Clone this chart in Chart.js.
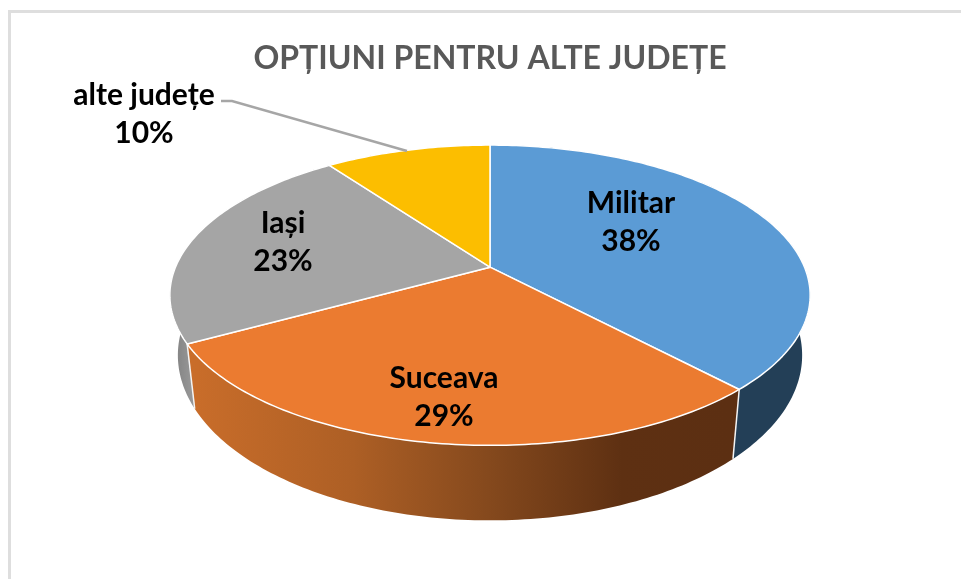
<!DOCTYPE html>
<html lang="ro"><head><meta charset="utf-8">
<style>
html,body{margin:0;padding:0;background:#fff;width:961px;height:579px;overflow:hidden}
#frame{position:absolute;left:8px;top:10px;width:960px;height:580px;border:3px solid #dedede;box-sizing:border-box}
#wrap{position:absolute;left:19px;top:0;width:942px;height:579px;filter:blur(0.45px)}
</style>
<script src="https://cdn.jsdelivr.net/npm/chart.js@4"></script>
</head><body>
<div id="frame"></div>
<div id="wrap"><canvas id="c"></canvas></div>
<script>
const titleText = 'OPȚIUNI PENTRU ALTE JUDEȚE';
const categories = ['Militar', 'Suceava', 'Iași', 'alte județe'];
const shares = [38, 29, 23, 10];
const topColors = ['#5b9bd5', '#eb7b30', '#a5a5a5', '#fcbe00'];
const labelCentres = [[612, 203], [425, 378], [264, 223], [125, 95]];

const K = -0.1867;
function rim(arc, a) {           // a is Chart.js angle; -PI/2 is the top of the pie
  const u = Math.cos(a), v = Math.sin(a), w = 1 + K * v, R = arc.outerRadius;
  return [arc.x + 1.73 * R * u / w, arc.y + 0.797 * R * v / w];
}
function lower(arc, p) {         // same rim, seen at the foot of the wall
  return [arc.x + (p[0] - arc.x) * 0.975, p[1] + 60 + (p[1] - (arc.y + 28)) * 0.1];
}
function rimPoints(arc) {
  const n = Math.max(8, Math.ceil((arc.endAngle - arc.startAngle) * 60)), pts = [];
  for (let i = 0; i <= n; i++) pts.push(rim(arc, arc.startAngle + (arc.endAngle - arc.startAngle) * i / n));
  return pts;
}
function wallFill(ctx, arc, i) {
  if (i === 0) return '#233f57';
  if (i === 2) {
    const g = ctx.createLinearGradient(arc.x - 320, 0, arc.x - 298, 0);
    g.addColorStop(0, '#7d7d7d'); g.addColorStop(1, '#979797');
    return g;
  }
  if (i === 1) {
    const g = ctx.createLinearGradient(arc.x - 298, 0, arc.x + 240, 0);
    g.addColorStop(0, '#c96d2a'); g.addColorStop(0.3, '#ad5f25');
    g.addColorStop(0.55, '#85491d'); g.addColorStop(0.8, '#5e3012'); g.addColorStop(1, '#5c2f12');
    return g;
  }
  return '#bf9000';
}
const pie3d = {
  id: 'pie3d',
  beforeDatasetDraw(chart) {
    const ctx = chart.ctx, arcs = chart.getDatasetMeta(0).data;
    ctx.save();
    ctx.lineJoin = 'round';
    [3, 2, 0, 1].forEach(i => {
      const arc = arcs[i], pts = rimPoints(arc), low = pts.map(p => lower(arc, p));
      ctx.beginPath();
      pts.forEach((p, k) => k ? ctx.lineTo(p[0], p[1]) : ctx.moveTo(p[0], p[1]));
      low.reverse().forEach(p => ctx.lineTo(p[0], p[1]));
      ctx.closePath();
      ctx.fillStyle = wallFill(ctx, arc, i);
      ctx.fill();
    });
    // white edges between the visible walls
    ctx.strokeStyle = '#f4f4f4'; ctx.lineWidth = 1.5;
    [arcs[1].startAngle, arcs[1].endAngle].forEach(a => {
      const p = rim(arcs[1], a), q = lower(arcs[1], p);
      ctx.beginPath(); ctx.moveTo(p[0], p[1]); ctx.lineTo(q[0], q[1]); ctx.stroke();
    });
    // top faces
    arcs.forEach((arc, i) => {
      ctx.beginPath();
      ctx.moveTo(arc.x, arc.y);
      rimPoints(arc).forEach(p => ctx.lineTo(p[0], p[1]));
      ctx.closePath();
      ctx.fillStyle = topColors[i];
      ctx.fill();
      ctx.strokeStyle = '#ffffff'; ctx.lineWidth = 1.5;
      ctx.stroke();
    });
    ctx.restore();
    return false;
  },
  afterDatasetsDraw(chart) {
    const ctx = chart.ctx;
    ctx.save();
    // leader line of the outside label
    ctx.strokeStyle = '#a6a6a6'; ctx.lineWidth = 2.4;
    ctx.beginPath(); ctx.moveTo(202, 101); ctx.lineTo(213, 101); ctx.lineTo(388, 151); ctx.stroke();
    ctx.fillStyle = '#000'; ctx.textAlign = 'center'; ctx.textBaseline = 'alphabetic';
    ctx.font = 'bold 30px Lato';
    categories.forEach((name, i) => {
      const c = labelCentres[i];
      ctx.fillText(name, c[0], c[1] + 10);
      ctx.fillText(shares[i] + '%', c[0], c[1] + 48);
    });
    ctx.restore();
  }
};
new Chart(document.getElementById('c'), {
  type: 'pie',
  data: { labels: categories, datasets: [{ data: shares, backgroundColor: topColors, borderColor: '#fff' }] },
  options: {
    responsive: true, maintainAspectRatio: false, animation: false,
    layout: { padding: { bottom: 129 } },
    plugins: {
      legend: { display: false }, tooltip: { enabled: false },
      title: { display: true, text: titleText, color: '#595959',
        font: { family: 'Lato', size: 32, weight: 'bold', lineHeight: 1.2 },
        padding: { top: 39, bottom: 7 } }
    }
  },
  plugins: [pie3d]
});
</script>
</body></html>
